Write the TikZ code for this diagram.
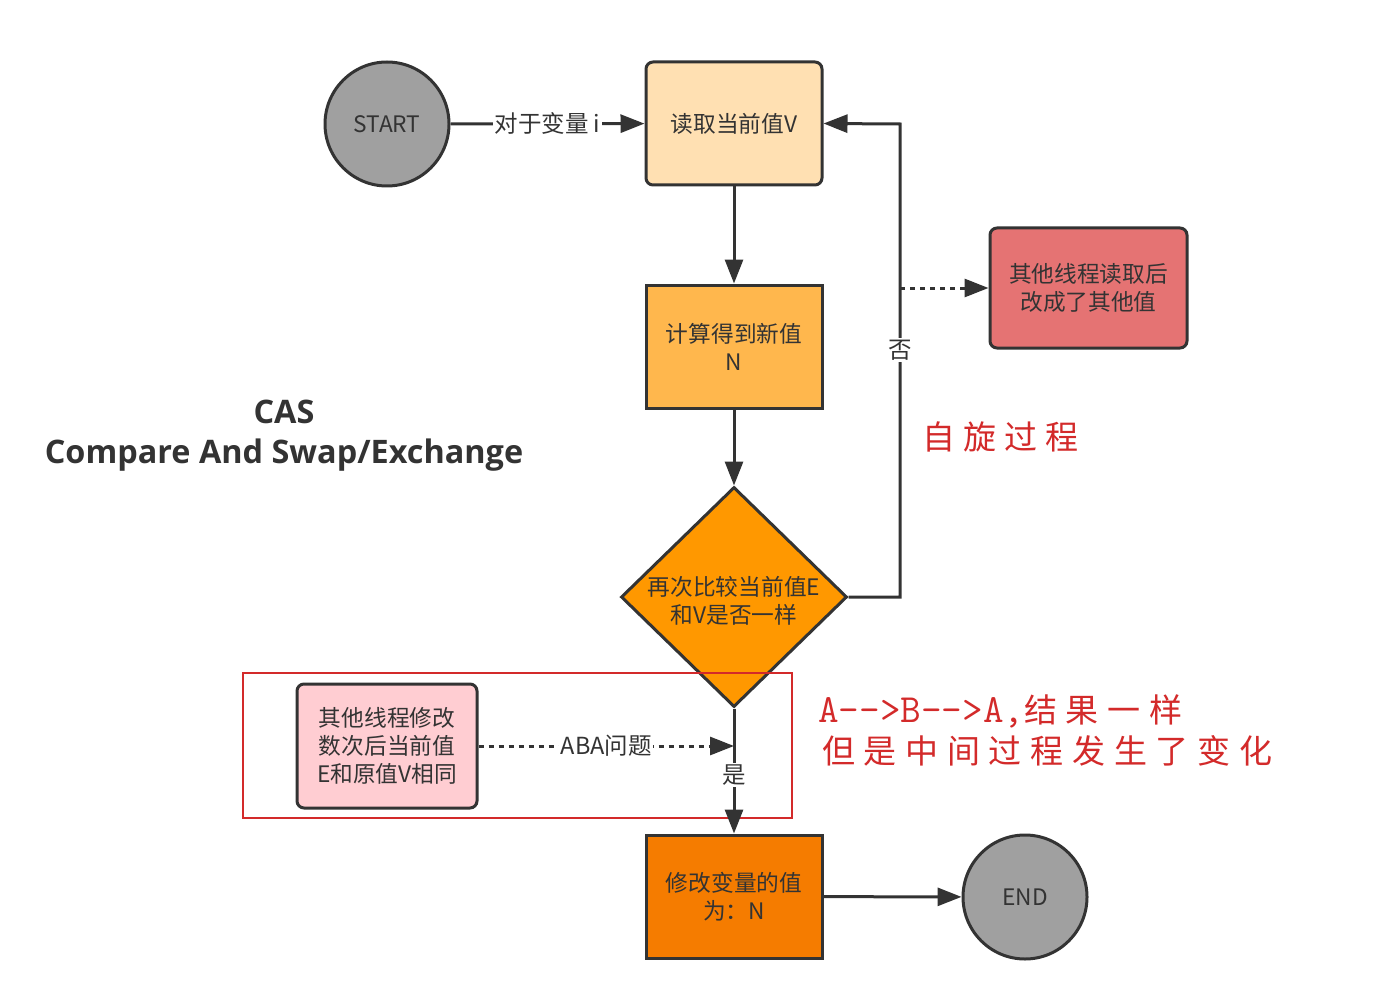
\documentclass[tikz,border=0pt]{standalone}
\usepackage{fontspec}
\setmainfont{Noto Sans CJK SC}
\newfontfamily\cjkfont{Noto Sans CJK SC}
\newfontfamily\titlefont{Open Sans}
\usetikzlibrary{shapes.geometric,arrows.meta}
\definecolor{lc}{HTML}{333333}
\definecolor{txc}{HTML}{333333}
\definecolor{cgray}{HTML}{A0A0A0}
\definecolor{cpeach}{HTML}{FFE0B2}
\definecolor{corange}{HTML}{FFB74D}
\definecolor{cdorange}{HTML}{FF9800}
\definecolor{cddorange}{HTML}{F57C00}
\definecolor{cred}{HTML}{E57373}
\definecolor{cpink}{HTML}{FFCDD2}
\definecolor{annred}{HTML}{D32A2A}
\tikzset{
  base/.style={draw=lc, line width=3pt, text=txc, font=\cjkfont\fontsize{22.7}{28}\selectfont, align=center, inner sep=0pt},
  termnode/.style={base, circle, minimum size=124pt, fill=cgray},
  procbox/.style={base, rectangle, minimum width=176pt, minimum height=123pt},
  roundbox/.style={procbox, rounded corners=7pt},
  decision/.style={base, diamond, minimum width=226pt, minimum height=220pt, aspect=1.03},
  conn/.style={draw=lc, line width=3pt, -{Triangle[length=24pt,width=18pt]}},
  dotconn/.style={conn, dash pattern=on 5pt off 5pt},
  lab/.style={fill=white, text=txc, inner sep=1.5pt, font=\cjkfont\fontsize{23.5}{26}\selectfont},
  annot/.style={text=annred, font=\cjkfont\fontsize{33}{40}\selectfont, align=left, inner sep=0pt},
}
\begin{document}
\begin{tikzpicture}[x=1pt,y=-1pt]
\useasboundingbox[fill=white] (0,0) rectangle (1388,1008);

% nodes
\node[termnode] (start) at (387,124) {START};
\node[roundbox, fill=cpeach] (read) at (734,123.5) {读取当前值V};
\node[procbox, fill=corange] (calc) at (734,346.5) {计算得到新值\\N};
\node[decision, fill=cdorange] (cmp) at (734,597) {};
\node[text=txc, font=\cjkfont\fontsize{22.7}{28}\selectfont, align=center] (cmptext) at (734,601) {再次比较当前值E\\和V是否一样};
\node[procbox, fill=cddorange] (mod) at (734,896.5) {修改变量的值\\为：N};
\node[termnode] (end) at (1025,897) {END};
\node[roundbox, fill=cred, minimum width=197pt, minimum height=120pt] (other) at (1088.5,288) {其他线程读取后\\改成了其他值};
\node[roundbox, fill=cpink, minimum width=180pt, minimum height=124pt] (pink) at (387,746) {其他线程修改\\数次后当前值\\E和原值V相同};

% red frame
\node[draw=annred, line width=2.5pt, minimum width=549pt, minimum height=145pt, inner sep=0pt] (frame) at (517.5,745.5) {};

% title
\node[text=txc, font=\titlefont\bfseries\fontsize{32.4}{40}\selectfont, align=center] (title) at (284,436) {CAS\\Compare And Swap/Exchange};

% annotations
\node[annot, anchor=west] (spin) at (922,437) {自\hspace{8pt}旋\hspace{8pt}过\hspace{8pt}程};
\node[annot, anchor=west] (aba1) at (818,711) {{\ttfamily\fontsize{40}{40}\selectfont A-{}->B-{}->A,}结\hspace{8.7pt}果\hspace{8.7pt}一\hspace{8.7pt}样};
\node[annot, anchor=west] (aba2) at (822,751) {但\hspace{8.7pt}是\hspace{8.7pt}中\hspace{8.7pt}间\hspace{8.7pt}过\hspace{8.7pt}程\hspace{8.7pt}发\hspace{8.7pt}生\hspace{8.7pt}了\hspace{8.7pt}变\hspace{8.7pt}化};

% coordinates
\coordinate (lc1) at (900,597);
\coordinate (lc2) at (900,124);
\coordinate (dt) at (900,288);
\coordinate (abaend) at (734,746);

% connectors
\draw[conn] (start) -- node[lab]{对于变量 i} (read);
\draw[conn] (read) -- (calc);
\draw[conn] (calc) -- (cmp.north);
\draw[conn] (cmp.east) -- (lc1) -- node[lab, pos=0.522]{否} (lc2) -- (read.east);
\draw[dotconn] (dt) -- (other.west);
\draw[conn] (cmp.south) -- node[lab, pos=0.53]{是} (mod.north);
\draw[dotconn] (pink.east) -- node[lab]{ABA问题} (abaend);
\draw[conn] (mod) -- (end);
\end{tikzpicture}
\end{document}
